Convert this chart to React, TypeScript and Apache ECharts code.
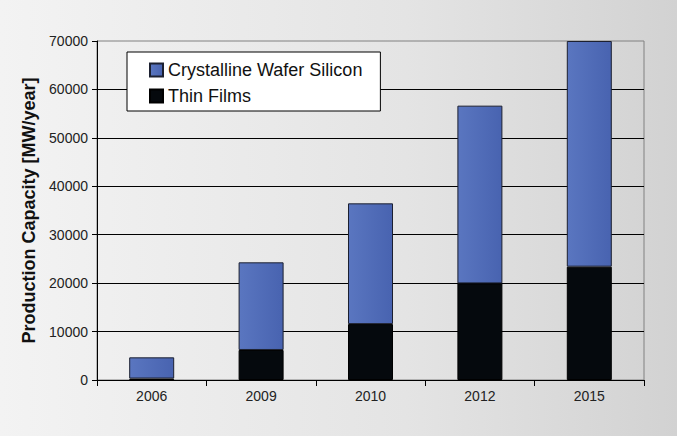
import React, { useEffect, useRef } from "react";
import * as echarts from "echarts";

const categories = ["2006", "2009", "2010", "2012", "2015"];
const thinFilms = [300, 6200, 11550, 19950, 23400];
const crystallineTotal = [4680, 24300, 36480, 56650, 70000];
const crystalline = crystallineTotal.map((t, i) => t - thinFilms[i]);
const yTicks = { min: 0, max: 70000, interval: 10000 };

export default function App() {
  const ref = useRef<HTMLDivElement>(null);
  useEffect(() => {
    if (!ref.current) return;
    const chart = echarts.init(ref.current, undefined, { renderer: "svg" });
    const font = "'Liberation Sans', Arial, sans-serif";
    chart.setOption({
      animation: false,
      backgroundColor: new echarts.graphic.LinearGradient(0, 0, 1, 0, [
        { offset: 0, color: "#f3f3f3" },
        { offset: 0.6, color: "#e4e4e4" },
        { offset: 1, color: "#d2d2d2" },
      ]),
      textStyle: { fontFamily: font },
      grid: {
        left: 97,
        right: 33,
        top: 41,
        bottom: 56,
        show: true,
        borderColor: "#808080",
        borderWidth: 1,
        backgroundColor: "transparent",
      },
      legend: {
        orient: "vertical",
        left: 127,
        top: 52,
        data: ["Crystalline Wafer Silicon", "Thin Films"],
        icon: "rect",
        backgroundColor: "#ffffff",
        borderColor: "#000000",
        borderWidth: 1,
        borderRadius: 0,
        padding: [9, 18, 6, 22],
        itemWidth: 13,
        itemHeight: 13,
        itemGap: 8,
        textStyle: { fontSize: 18, color: "#111", fontFamily: font },
      },
      xAxis: {
        type: "category",
        data: categories,
        axisLine: { lineStyle: { color: "#000", width: 1 } },
        axisTick: { show: true, length: 6, lineStyle: { color: "#000" } },
        axisLabel: { fontSize: 14, color: "#222", margin: 9 },
        splitLine: { show: false },
      },
      yAxis: {
        type: "value",
        min: yTicks.min,
        max: yTicks.max,
        interval: yTicks.interval,
        name: "Production Capacity [MW/year]",
        nameLocation: "middle",
        nameGap: 59,
        nameTextStyle: { fontSize: 18, fontWeight: "bold", color: "#111" },
        axisLine: { show: true, lineStyle: { color: "#000", width: 1 } },
        axisTick: { show: true, length: 5, lineStyle: { color: "#000" } },
        axisLabel: {
          fontSize: 14,
          color: "#222",
          margin: 9,
          formatter: (v: number) => String(v),
        },
        splitLine: {
          show: true,
          showMaxLine: false,
          lineStyle: { color: "#000", width: 1 },
        },
      },
      series: [
        {
          name: "Thin Films",
          type: "bar",
          stack: "total",
          data: thinFilms,
          barWidth: 45,
          itemStyle: {
            color: "#05090d",
            borderColor: "#000",
            borderWidth: 1,
          },
        },
        {
          name: "Crystalline Wafer Silicon",
          type: "bar",
          stack: "total",
          data: crystalline,
          barWidth: 45,
          itemStyle: {
            color: new echarts.graphic.LinearGradient(0, 0, 1, 0, [
              { offset: 0, color: "#5a76c0" },
              { offset: 1, color: "#4863b0" },
            ]),
            borderColor: "#1c2030",
            borderWidth: 1,
          },
        },
      ],
    });
    return () => chart.dispose();
  }, []);
  return (
    <div
      ref={ref}
      style={{ width: 677, height: 436, position: "absolute", left: 0, top: 0 }}
    />
  );
}
